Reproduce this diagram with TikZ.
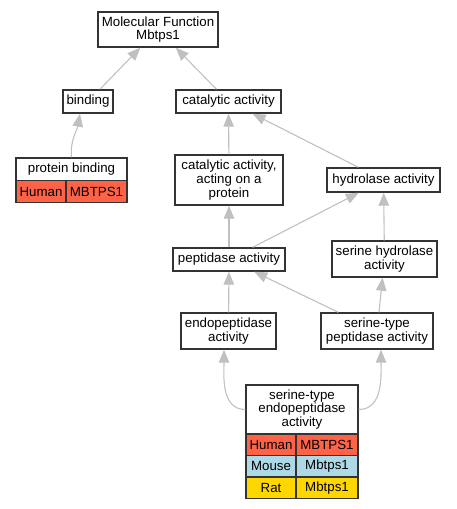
\documentclass[tikz,border=0pt]{standalone}
\usepackage{fontspec}
\setmainfont{Liberation Sans}
\usetikzlibrary{arrows.meta}

\definecolor{human}{HTML}{FF6347}
\definecolor{mouse}{HTML}{ADD8E6}
\definecolor{rat}{HTML}{FFD700}
\definecolor{edgegray}{HTML}{C0C0C0}
\definecolor{boxline}{HTML}{333333}

\tikzset{
	term/.style={draw=boxline, line width=1.4pt, fill=white, align=center, inner sep=0pt,
		font=\fontsize{13.3}{13.8}\selectfont},
	cell/.style={term, minimum height=21.5pt},
	isa/.style={draw=edgegray, line width=1.1pt, -{Triangle[length=13pt,width=10.5pt]}}
}

\begin{document}
\begin{tikzpicture}[x=1pt,y=-1pt]
		\useasboundingbox (0,0) rectangle (456,509);

		\node[term, minimum width=120pt, minimum height=35pt] (mf) at (158,29.5) {Molecular Function\\Mbtps1};
		\node[term, minimum width=50pt, minimum height=23pt] (bind) at (88,101.5) {binding};
		\node[term, minimum width=105pt, minimum height=23pt] (cat) at (228.5,101.5) {catalytic activity};

		%protein binding table
		\node[term, minimum width=111pt, minimum height=23pt] (pb) at (71.5,169.5) {protein binding};
		\node[cell, fill=human, minimum width=50pt] (pb-sp) at (41,191.5) {Human};
		\node[cell, fill=human, minimum width=61pt] (pb-gene) at (96.5,191.5) {MBTPS1};

		\node[term, minimum width=108pt, minimum height=50pt] (capr) at (229,180) {catalytic activity,\\acting on a\\protein};
		\node[term, minimum width=113pt, minimum height=24pt] (hyd) at (383.5,180) {hydrolase activity};
		\node[term, minimum width=112pt, minimum height=23pt] (pep) at (229,259.5) {peptidase activity};
		\node[term, minimum width=105pt, minimum height=36pt] (shyd) at (384.5,259) {serine hydrolase\\activity};
		\node[term, minimum width=95pt, minimum height=36pt] (endo) at (228.5,331) {endopeptidase\\activity};
		\node[term, minimum width=112pt, minimum height=36pt] (stp) at (377,331) {serine-type\\peptidase activity};

		%serine-type endopeptidase table
		\node[term, minimum width=112pt, minimum height=49pt] (ste) at (302,409.5) {serine-type\\endopeptidase\\activity};
		\foreach \sp/\gene/\col [count=\i] in {Human/MBTPS1/human, Mouse/Mbtps1/mouse, Rat/Mbtps1/rat}{
			\node[cell, fill=\col, minimum width=50pt] (ste-sp-\i) at (271,{423.25+21.5*\i}) {\sp};
			\node[cell, fill=\col, minimum width=62pt] (ste-gene-\i) at (327,{423.25+21.5*\i}) {\gene};
		}

		%is-a edges
		\draw[isa] (bind) -- (mf);
		\draw[isa] (cat) -- (mf);
		\draw[isa] (pb.north) to[out=95,in=-100] ([xshift=-8pt]bind.south);
		\draw[isa] (capr) -- (cat);
		\draw[isa] (hyd) -- (cat);
		\draw[isa] (pep) -- (capr);
		\draw[isa] (pep) -- (hyd);
		\draw[isa] (shyd) -- (hyd);
		\draw[isa] (endo) -- (pep);
		\draw[isa] (stp) -- (pep);
		\draw[isa] (stp) -- (shyd);
		\draw[isa] (ste.west) to[out=180,in=-90] ([xshift=-4.5pt]endo.south);
		\draw[isa] (ste.east) to[out=0,in=-90] ([xshift=4pt]stp.south);

	\end{tikzpicture}
\end{document}
